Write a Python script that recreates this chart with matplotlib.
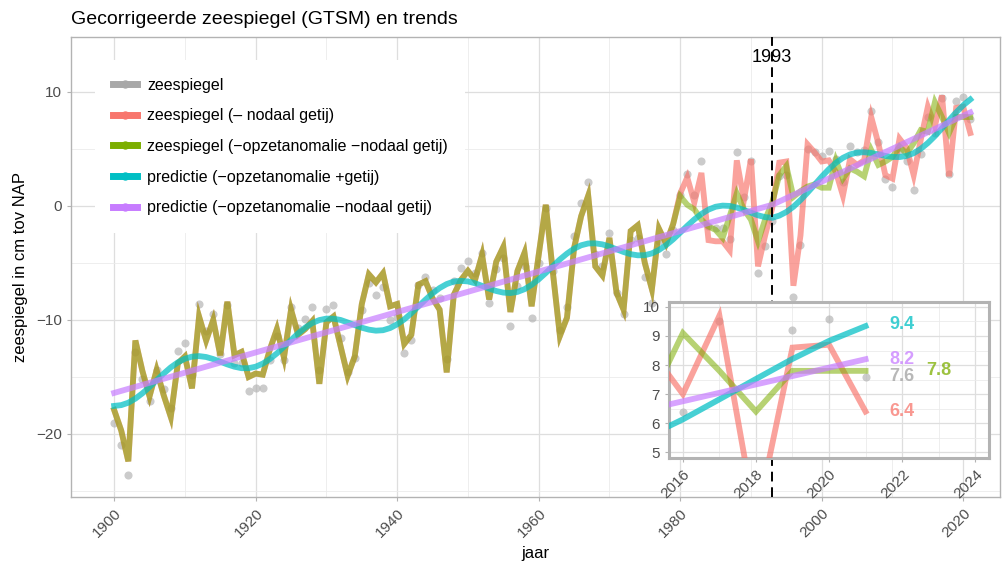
import matplotlib
matplotlib.use('Agg')
import matplotlib.pyplot as plt
from matplotlib.lines import Line2D
from matplotlib.ticker import MultipleLocator

plt.rcParams['font.family'] = ['Liberation Sans', 'DejaVu Sans']

# jaren 1900 - 2021
years = list(range(1900, 2022))

# zeespiegel (grijze punten)
zeespiegel = [
    -19.0, -21.0, -23.6, -12.8, -15.2, -17.1, -14.4, -16.1, -17.7, -12.7,
    -12.0, -14.8, -8.6, -11.0, -9.5, -13.0, -8.7, -13.8, -13.8, -16.2,
    -16.0, -16.0, -13.5, -11.4, -13.5, -8.9, -10.7, -9.9, -8.9, -14.4,
    -9.0, -8.7, -11.6, -14.6, -13.3, -9.1, -6.8, -7.8, -7.1, -10.0,
    -9.7, -12.9, -11.8, -6.9, -6.2, -7.4, -8.1, -13.4, -6.6, -5.4,
    -4.8, -5.9, -4.1, -8.5, -5.5, -4.6, -10.5, -7.0, -5.3, -9.8,
    -5.0, -0.2, -5.7, -10.9, -8.9, -2.6, 0.3, 2.1, -4.2, -5.3,
    -2.4, -7.6, -9.5, -3.0, -2.8, -6.2, -8.5, -3.1, -4.2, -2.1,
    1.0, 2.8, 1.0, 3.9, -1.8, -1.9, -1.9, -2.9, 4.7, 0.8,
    3.9, -5.9, -3.5, -1.3, 2.6, 2.7, -8.0, -3.4, 5.0, 4.7,
    4.4, 4.8, 4.1, 2.1, 5.3, 4.7, 4.9, 8.3, 5.6, 2.4,
    1.7, 4.9, 3.9, 1.4, 4.6, 7.8, 6.4, 9.5, 2.8, 9.2,
    9.6, 7.6,
]

# zonder nodaal getij; tot en met 1979 geen opzetanomalie, beide reeksen gelijk
gemeenschappelijk = [
    -17.9, -19.7, -22.4, -11.8, -14.5, -16.7, -14.4, -16.6, -18.5, -13.8,
    -13.2, -16.0, -9.7, -11.8, -10.0, -13.1, -8.4, -13.1, -12.8, -15.0,
    -14.7, -14.8, -12.6, -10.8, -13.3, -9.1, -11.3, -10.8, -10.1, -15.6,
    -10.2, -9.7, -12.3, -14.9, -13.2, -8.6, -6.0, -6.7, -5.9, -8.8,
    -8.6, -12.1, -11.3, -6.9, -6.6, -8.1, -9.1, -14.6, -7.8, -6.5,
    -5.7, -6.5, -4.3, -8.2, -4.9, -3.6, -9.3, -5.7, -4.1, -8.8,
    -4.3, 0.1, -5.8, -11.4, -9.8, -3.7, -0.9, 0.9, -5.3, -6.1,
    -2.8, -7.6, -9.1, -2.2, -1.7, -5.0, -7.3, -2.0, -3.3, -1.6,
]
# 1980 - 2021
zonder_nodaal = [
    1.1, 2.5, 0.3, 2.9, -3.0, -3.1, -3.1, -3.9, 4.0, 0.5,
    4.1, -5.3, -2.6, -0.2, 3.8, 3.9, -7.0, -2.6, 5.4, 4.7,
    3.9, 4.0, 3.0, 0.9, 4.1, 3.6, 4.0, 7.8, 5.5, 2.7,
    2.4, 5.9, 5.1, 2.7, 5.8, 8.7, 7.0, 9.7, 2.6, 8.6,
    8.7, 6.4,
]
zonder_opzet = [
    0.85, 0.1, -0.3, -1.2, -1.8, -2.1, -2.8, -0.9, 1.1, -0.3,
    -1.2, -3.1, -1.2, 0.3, 2.7, 3.5, 0.8, 1.3, 1.7, 1.9,
    1.6, 1.6, 4.0, 2.4, 3.3, 3.0, 2.6, 4.9, 3.6, 3.9,
    4.3, 5.2, 4.6, 5.5, 6.65, 6.5, 9.1, 7.8, 6.4, 7.8,
    7.8, 7.8,
]

predictie_getij = [
    -17.54, -17.47, -17.26, -16.90, -16.43, -15.88, -15.29, -14.70, -14.16, -13.72,
    -13.40, -13.22, -13.17, -13.25, -13.43, -13.66, -13.90, -14.10, -14.23, -14.23,
    -14.10, -13.83, -13.43, -12.93, -12.35, -11.76, -11.18, -10.67, -10.27, -10.01,
    -9.88, -9.89, -10.00, -10.22, -10.45, -10.68, -10.85, -10.94, -10.90, -10.71,
    -10.38, -9.95, -9.41, -8.81, -8.22, -7.67, -7.20, -6.85, -6.63, -6.57,
    -6.62, -6.78, -7.01, -7.25, -7.46, -7.60, -7.64, -7.54, -7.30, -6.92,
    -6.44, -5.88, -5.28, -4.69, -4.18, -3.75, -3.45, -3.29, -3.28, -3.37,
    -3.56, -3.80, -4.04, -4.23, -4.33, -4.32, -4.16, -3.86, -3.44, -2.93,
    -2.34, -1.74, -1.18, -0.70, -0.32, -0.07, 0.03, 0.00, -0.14, -0.35,
    -0.59, -0.82, -0.98, -1.04, -0.85, -0.53, -0.07, 0.51, 1.17, 1.86,
    2.57, 3.22, 3.78, 4.22, 4.52, 4.68, 4.71, 4.65, 4.52, 4.39,
    4.30, 4.29, 4.39, 4.63, 5.01, 5.52, 6.13, 6.82, 7.52, 8.21,
    8.83, 9.34,
]

# gebroken lineaire trend (paars)
trend_jaren = [1900, 1993, 2021]
trend_waarden = [-16.4, 0.1, 8.2]

labels = [
    'zeespiegel',
    'zeespiegel (\u2013 nodaal getij)',
    'zeespiegel (\u2212opzetanomalie \u2212nodaal getij)',
    'predictie (\u2212opzetanomalie +getij)',
    'predictie (\u2212opzetanomalie \u2212nodaal getij)',
]
# eindwaarden inset
eind_labels = [('9.4', 2022, 9.4), ('8.2', 2022, 8.2), ('7.6', 2022, 7.6),
               ('7.8', 2023, 7.8), ('6.4', 2022, 6.4)]

c_grey = '#B0B0B0'
c_red = '#F8766D'
c_green = '#7CAE00'
c_cyan = '#00BFC4'
c_purple = '#C77CFF'

red = gemeenschappelijk + zonder_nodaal
green = gemeenschappelijk + zonder_opzet

grid_major = '#DEDEDE'
grid_minor = '#EBEBEB'
border = '#B3B3B3'
tick_col = '#4D4D4D'
LW = 4.2


def draw_series(ax):
    ax.scatter(years, zeespiegel, s=34, color=c_grey, alpha=0.65, lw=0, zorder=2)
    ax.plot(years, red, color=c_red, lw=LW, alpha=0.68, zorder=3, solid_joinstyle='miter')
    ax.plot(years, green, color=c_green, lw=LW, alpha=0.55, zorder=3, solid_joinstyle='miter')
    ax.plot(years, predictie_getij, color=c_cyan, lw=LW, alpha=0.72, zorder=4)
    ax.plot(trend_jaren, trend_waarden, color=c_purple, lw=LW, alpha=0.7, zorder=4)


def style(ax, lw_border):
    ax.set_facecolor('white')
    ax.grid(True, which='major', color=grid_major, lw=0.9)
    ax.grid(True, which='minor', color=grid_minor, lw=0.6)
    ax.set_axisbelow(True)
    for s in ax.spines.values():
        s.set_color(border)
        s.set_linewidth(lw_border)
    ax.tick_params(which='major', colors=border, length=3, width=0.8,
                   labelcolor=tick_col, labelsize=11)
    ax.tick_params(which='minor', length=0)
    for t in ax.get_xticklabels():
        t.set_rotation(45)
        t.set_ha('right')
        t.set_rotation_mode('anchor')


fig = plt.figure(figsize=(10.02, 5.64), dpi=100)
ax = fig.add_axes([71 / 1002, 1 - 497 / 564, 929 / 1002, 460 / 564])
draw_series(ax)
ax.axvline(1993, color='black', lw=1.4, ls=(0, (5, 3)), zorder=5)
ax.text(1993, 13.0, '1993', ha='center', va='center', fontsize=13, zorder=6)
ax.set_xlim(1893.9, 2025.2)
ax.set_ylim(-25.53, 14.82)
ax.xaxis.set_major_locator(MultipleLocator(20))
ax.xaxis.set_minor_locator(MultipleLocator(10))
ax.yaxis.set_major_locator(MultipleLocator(10))
ax.yaxis.set_minor_locator(MultipleLocator(5))
style(ax, 1.0)
ax.set_xlabel('jaar', fontsize=12, labelpad=4)
ax.set_ylabel('zeespiegel in cm tov NAP', fontsize=12, labelpad=6)
ax.set_title('Gecorrigeerde zeespiegel (GTSM) en trends', loc='left', fontsize=14, pad=9)

handles = [Line2D([0], [0], color=c, lw=5, marker='o', markersize=5,
                  markerfacecolor=c, markeredgecolor=c)
           for c in ['#A8A8A8', c_red, c_green, c_cyan, c_purple]]
leg = ax.legend(handles, labels, loc='upper left', bbox_to_anchor=(0.026, 0.95),
                fontsize=11.5, frameon=True, facecolor='white', edgecolor='none',
                framealpha=1, fancybox=False, borderaxespad=0, borderpad=1.1,
                handlelength=1.55, handletextpad=0.6, labelspacing=0.98)
leg.set_zorder(7)

# inset
axi = fig.add_axes([669 / 1002, 1 - 458 / 564, 320 / 1002, 156 / 564])
draw_series(axi)
axi.set_xlim(2015.62, 2024.38)
axi.set_ylim(4.8, 10.17)
axi.xaxis.set_major_locator(MultipleLocator(2))
axi.xaxis.set_minor_locator(MultipleLocator(1))
axi.yaxis.set_major_locator(MultipleLocator(1))
axi.yaxis.set_minor_locator(MultipleLocator(0.5))
style(axi, 2.2)
lab_cols = [c_cyan, c_purple, '#A0A0A0', c_green, c_red]
for (txt, x, y), col in zip(eind_labels, lab_cols):
    axi.text(x, y, txt, color=col, alpha=0.75, fontsize=13, fontweight='bold',
             ha='center', va='center', zorder=6)

fig.savefig('out.png', dpi=100)
